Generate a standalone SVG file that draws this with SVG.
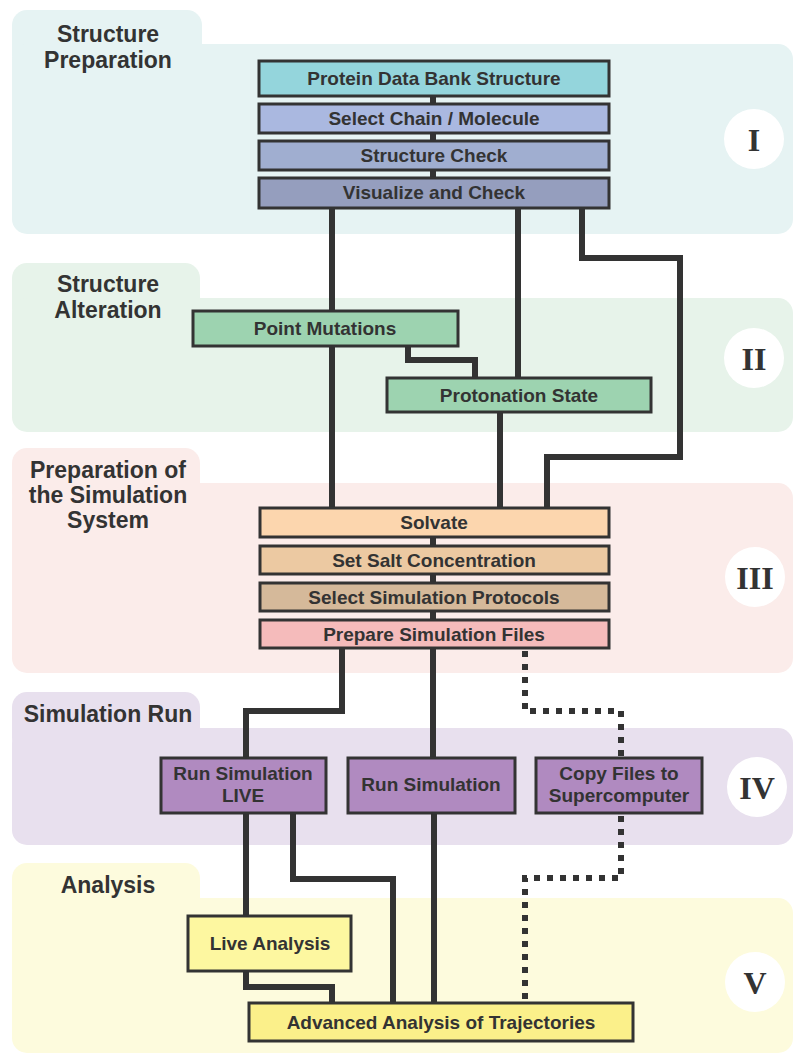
<svg xmlns="http://www.w3.org/2000/svg" width="795" height="1055" viewBox="0 0 795 1055">
<style>
.lbl{font-family:"Liberation Sans",Arial,sans-serif;font-weight:bold;font-size:23px;fill:#333;text-anchor:middle}
.bt{font-family:"Liberation Sans",Arial,sans-serif;font-weight:bold;font-size:19px;fill:#333;text-anchor:middle}
.num{font-family:"Liberation Serif","Times New Roman",serif;font-weight:bold;font-size:32px;fill:#333;text-anchor:middle}
.box{stroke:#333;stroke-width:3}
.con{fill:none;stroke:#333;stroke-width:6;stroke-linejoin:miter;stroke-linecap:butt}
.dot{fill:none;stroke:#333;stroke-width:6;stroke-dasharray:6 7}
</style>
<rect width="795" height="1055" fill="#fff"/>
<!-- Panels -->
<g id="panel-I" fill="#e6f3f3">
<rect x="12" y="10" width="190" height="60" rx="15"/>
<rect x="12" y="44" width="781" height="190" rx="15"/>
<text class="lbl" x="108" y="42">Structure</text>
<text class="lbl" x="108" y="68">Preparation</text>
<circle cx="754" cy="139" r="30" fill="#fff"/>
<text class="num" x="754" y="151">I</text>
</g>
<g id="panel-II" fill="#e7f3ea">
<rect x="12" y="263" width="188" height="60" rx="15"/>
<rect x="12" y="298" width="781" height="134" rx="15"/>
<text class="lbl" x="108" y="292">Structure</text>
<text class="lbl" x="108" y="318">Alteration</text>
<circle cx="754" cy="358" r="30" fill="#fff"/>
<text class="num" x="754" y="370">II</text>
</g>
<g id="panel-III" fill="#fbecea">
<rect x="12" y="448" width="188" height="60" rx="15"/>
<rect x="12" y="483" width="781" height="190" rx="15"/>
<text class="lbl" x="108" y="478">Preparation of</text>
<text class="lbl" x="108" y="503">the Simulation</text>
<text class="lbl" x="108" y="528">System</text>
<circle cx="755" cy="577" r="30" fill="#fff"/>
<text class="num" x="755" y="589">III</text>
</g>
<g id="panel-IV" fill="#e8e0ee">
<rect x="12" y="692" width="188" height="60" rx="15"/>
<rect x="12" y="728" width="781" height="117" rx="15"/>
<text class="lbl" x="108" y="722">Simulation Run</text>
<circle cx="757" cy="787" r="30" fill="#fff"/>
<text class="num" x="757" y="799">IV</text>
</g>
<g id="panel-V" fill="#fdfbdd">
<rect x="12" y="863" width="188" height="60" rx="15"/>
<rect x="12" y="898" width="781" height="155" rx="15"/>
<text class="lbl" x="108" y="893">Analysis</text>
<circle cx="755" cy="982" r="30" fill="#fff"/>
<text class="num" x="755" y="994">V</text>
</g>
<!-- Connectors -->
<g id="connectors">
<path class="con" d="M433,96V104 M433,133V141 M433,170V178"/>
<path class="con" d="M332,208V311"/>
<path class="con" d="M518,208V378"/>
<path class="con" d="M582,208V258H680V457H547V508"/>
<path class="con" d="M332,347V508"/>
<path class="con" d="M408,347V360H475V378"/>
<path class="con" d="M500,413V508"/>
<path class="con" d="M433,537V546 M433,574V583 M433,611V620"/>
<path class="con" d="M342,648V711H246V758"/>
<path class="con" d="M433,648V758"/>
<path class="dot" d="M525,651V711H621V758"/>
<path class="con" d="M246,813V916"/>
<path class="con" d="M293,813V879H393V1003"/>
<path class="con" d="M434,813V1003"/>
<path class="dot" d="M621,816V878H525V1003"/>
<path class="con" d="M246,971V987H332V1003"/>
</g>
<!-- Nodes -->
<g id="pdb"><rect class="box" x="259" y="61" width="350" height="35" fill="#94d5dc"/><text class="bt" x="434" y="85">Protein Data Bank Structure</text></g>
<g id="select-chain"><rect class="box" x="259" y="104" width="350" height="29" fill="#aab8e0"/><text class="bt" x="434" y="125">Select Chain / Molecule</text></g>
<g id="structure-check"><rect class="box" x="259" y="141" width="350" height="29" fill="#a0aed0"/><text class="bt" x="434" y="162">Structure Check</text></g>
<g id="visualize"><rect class="box" x="259" y="178" width="350" height="30" fill="#959ebe"/><text class="bt" x="434" y="199">Visualize and Check</text></g>
<g id="point-mutations"><rect class="box" x="193" y="311" width="265" height="35" fill="#9dd3b0"/><text class="bt" x="325" y="335">Point Mutations</text></g>
<g id="protonation"><rect class="box" x="387" y="378" width="264" height="34" fill="#9dd3b0"/><text class="bt" x="519" y="402">Protonation State</text></g>
<g id="solvate"><rect class="box" x="260" y="508" width="349" height="29" fill="#fcd6ae"/><text class="bt" x="434" y="529">Solvate</text></g>
<g id="salt"><rect class="box" x="260" y="546" width="349" height="28" fill="#ecc9a2"/><text class="bt" x="434" y="567">Set Salt Concentration</text></g>
<g id="protocols"><rect class="box" x="260" y="583" width="349" height="28" fill="#d5b99a"/><text class="bt" x="434" y="604">Select Simulation Protocols</text></g>
<g id="prepare"><rect class="box" x="260" y="620" width="349" height="28" fill="#f5bbbb"/><text class="bt" x="434" y="641">Prepare Simulation Files</text></g>
<g id="run-live"><rect class="box" x="161" y="758" width="165" height="55" fill="#b08ac0"/><text class="bt" x="243" y="780">Run Simulation</text><text class="bt" x="243" y="802">LIVE</text></g>
<g id="run"><rect class="box" x="348" y="758" width="167" height="55" fill="#b08ac0"/><text class="bt" x="431" y="791">Run Simulation</text></g>
<g id="copy"><rect class="box" x="536" y="758" width="166" height="55" fill="#b08ac0"/><text class="bt" x="619" y="780">Copy Files to</text><text class="bt" x="619" y="802">Supercomputer</text></g>
<g id="live-analysis"><rect class="box" x="188" y="916" width="163" height="55" fill="#fdf7a0"/><text class="bt" x="270" y="950">Live Analysis</text></g>
<g id="advanced"><rect class="box" x="249" y="1003" width="384" height="38" fill="#fbf08a"/><text class="bt" x="441" y="1029">Advanced Analysis of Trajectories</text></g>
</svg>
